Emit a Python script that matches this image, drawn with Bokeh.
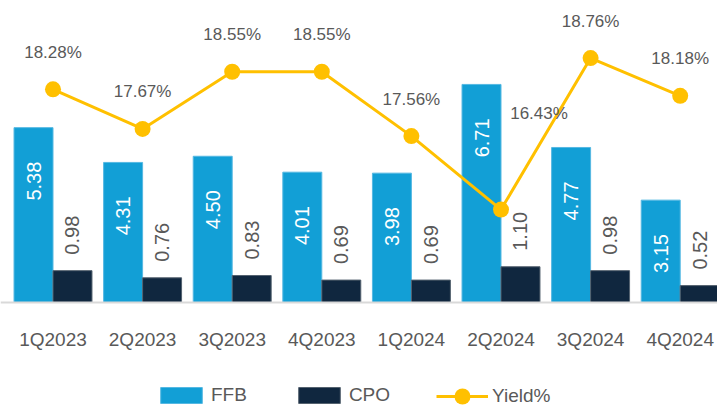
import math
from bokeh.plotting import figure
from bokeh.models import Range1d, ColumnDataSource, Legend, LegendItem, FixedTicker, LinearAxis
from bokeh.transform import dodge
from bokeh.core.properties import value
from bokeh.embed import file_html
from bokeh.resources import INLINE

quarters = ["1Q2023", "2Q2023", "3Q2023", "4Q2023", "1Q2024", "2Q2024", "3Q2024", "4Q2024"]
ffb = [5.38, 4.31, 4.50, 4.01, 3.98, 6.71, 4.77, 3.15]
cpo = [0.98, 0.76, 0.83, 0.69, 0.69, 1.10, 0.98, 0.52]
yield_pct = [18.28, 17.67, 18.55, 18.55, 17.56, 16.43, 18.76, 18.18]

# label offsets (screen px) for the yield labels
yield_dx = [0, 0, 0, 0, 0, 38, 0, 0]
yield_dy = [-37, -37, -37, -37, -37, -96, -37, -37]

FONT = "Liberation Sans"
GRAY = "#595959"
BLUE = "#129FD6"
NAVY = "#10273F"
GOLD = "#FFC000"

W, H = 717, 405
BASE = 302          # pixel row of the bar baseline
PX_PER_BAR = 32.5
PX_PER_PCT = 65.0
PX_PER_CAT = 89.6
FIRST_CENTER = 52.5
BELOW = H - BASE

idx = list(range(len(quarters)))
src = ColumnDataSource(dict(
    i=idx, ffb=ffb, cpo=cpo, yld=yield_pct,
    ffb_t=["%.2f" % v for v in ffb],
    cpo_t=["%.2f" % v for v in cpo],
    yld_t=["%.2f%%" % v for v in yield_pct],
    ydx=yield_dx, ydy=yield_dy,
))

x0 = -FIRST_CENTER / PX_PER_CAT
p = figure(x_range=Range1d(x0, x0 + W / PX_PER_CAT),
           y_range=Range1d(-BELOW / PX_PER_BAR, BASE / PX_PER_BAR),
           width=W, height=H, output_backend="svg", toolbar_location=None,
           min_border_left=0, min_border_right=0, min_border_top=0, min_border_bottom=0,
           y_axis_location=None, x_axis_location=None)
p.extra_y_ranges = {"yield": Range1d(15 - BELOW / PX_PER_PCT, 15 + BASE / PX_PER_PCT)}
p.outline_line_color = None
p.xgrid.visible = False
p.ygrid.visible = False
p.background_fill_color = "white"
p.border_fill_color = "white"

BW = 0.435
r_ffb = p.vbar(x=dodge("i", -BW / 2), top="ffb", width=BW, source=src,
               fill_color=BLUE, line_color="#55B8E2", line_width=1)
r_cpo = p.vbar(x=dodge("i", BW / 2), top="cpo", width=BW, source=src,
               fill_color=NAVY, line_color="#54626F", line_width=1)

p.text(x=dodge("i", -BW / 2), y="ffb", text="ffb_t", source=src,
       angle=math.pi / 2, text_align="right", text_baseline="middle", y_offset=34,
       text_color="white", text_font=value(FONT), text_font_size="20px")
p.text(x=dodge("i", BW / 2), y="cpo", text="cpo_t", source=src,
       angle=math.pi / 2, text_align="left", text_baseline="middle", y_offset=-16,
       text_color=GRAY, text_font=value(FONT), text_font_size="20px")

r_line = p.line(x="i", y="yld", source=src, y_range_name="yield", line_color=GOLD, line_width=3)
r_pts = p.scatter(x="i", y="yld", source=src, y_range_name="yield", size=16,
                  fill_color=GOLD, line_color=None)
p.text(x="i", y="yld", text="yld_t", source=src, y_range_name="yield",
       x_offset="ydx", y_offset="ydy", text_align="center", text_baseline="middle",
       text_color=GRAY, text_font=value(FONT), text_font_size="17px")

ax = LinearAxis(fixed_location=0)
ax.ticker = FixedTicker(ticks=idx)
ax.major_label_overrides = {i: q for i, q in zip(idx, quarters)}
ax.axis_line_color = "#D9D9D9"
ax.axis_line_width = 2
ax.major_tick_line_color = None
ax.minor_tick_line_color = None
ax.major_label_text_font = FONT
ax.major_label_text_font_size = "19px"
ax.major_label_text_color = GRAY
ax.major_label_standoff = 20
p.add_layout(ax, "below")

common = dict(orientation="horizontal", border_line_color=None, background_fill_alpha=0,
              padding=0, margin=0, spacing=46, label_standoff=4, label_height=20,
              label_text_font=FONT, label_text_font_size="19px", label_text_color=GRAY,
              glyph_width=52)
legend_bars = Legend(items=[
    LegendItem(label="FFB", renderers=[r_ffb]),
    LegendItem(label="CPO", renderers=[r_cpo]),
], location=(155, -1), glyph_height=20, **common)
legend_line = Legend(items=[
    LegendItem(label="Yield%", renderers=[r_line, r_pts]),
], location=(436, -11), glyph_height=40, **common)
p.add_layout(legend_bars)
p.add_layout(legend_line)

open("out.html", "w").write(file_html(p, INLINE))
